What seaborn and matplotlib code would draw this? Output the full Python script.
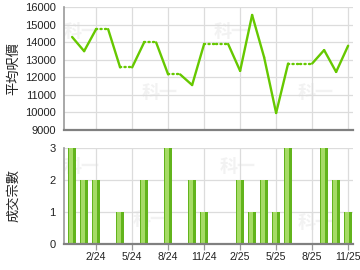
import numpy as np
import pandas as pd
import matplotlib
matplotlib.use("Agg")
import matplotlib.pyplot as plt
import seaborn as sns

months = ['12/23', '1/24', '2/24', '3/24', '4/24', '5/24', '6/24', '7/24', '8/24', '9/24',
          '10/24', '11/24', '12/24', '1/25', '2/25', '3/25', '4/25', '5/25', '6/25', '7/25',
          '8/25', '9/25', '10/25', '11/25']
counts = [3, 2, 2, 0, 1, 0, 2, 0, 3, 0, 2, 1, 0, 0, 2, 1, 2, 1, 3, 0, 0, 3, 2, 1]
prices = [14300, 13490, 14750, None, 12560, None, 13990, None, 12160, None,
          11550, 13900, None, None, 12360, 15560, 13140, 9950, 12780, None,
          None, 13550, 12300, 13800]
tick_labels = ['2/24', '5/24', '8/24', '11/24', '2/25', '5/25', '8/25', '11/25']
price_ticks = [9000, 10000, 11000, 12000, 13000, 14000, 15000, 16000]
count_ticks = [0, 1, 2, 3]

sns.set_theme(style="white")
plt.rcParams['font.family'] = ['Liberation Sans', 'Noto Sans CJK TC', 'DejaVu Sans']

xpos = np.arange(len(months))
filled = pd.Series(prices, dtype=float).ffill().to_numpy()

rows = []
for i in range(1, len(months)):
    kind = 'dotted' if prices[i] is None else 'solid'
    rows.append(dict(x=xpos[i - 1], y=filled[i - 1], seg=i, kind=kind))
    rows.append(dict(x=xpos[i], y=filled[i], seg=i, kind=kind))
line_df = pd.DataFrame(rows)

fig = plt.figure(figsize=(3.6, 2.7), dpi=100)
ax1 = fig.add_axes([0.178, 0.520, 0.803, 0.453])
ax2 = fig.add_axes([0.178, 0.096, 0.803, 0.357])

GREEN = '#66c800'
GRID = '#dcdcdc'
tick_idx = [months.index(t) for t in tick_labels]
xlim = (-0.67, 23.42)

# top: average price line
sns.lineplot(data=line_df, x='x', y='y', units='seg', style='kind', estimator=None,
             dashes={'solid': '', 'dotted': (0.5, 1.4)}, color=GREEN, linewidth=1.7,
             legend=False, ax=ax1, dash_capstyle='round')
ax1.set_xlim(*xlim)
ax1.set_ylim(9000, 16000)
ax1.set_yticks(price_ticks)
ax1.set_xticks(tick_idx)
ax1.set_xticklabels([])
ax1.set_xlabel('')
ax1.set_ylabel('平均呎價', family=['Noto Sans CJK TC'], fontsize=9.5, color='#222222')
ax1.yaxis.set_label_coords(-0.152, 0.5)

# bottom: transaction count bars
sns.barplot(x=xpos, y=counts, native_scale=True, width=0.72, color='#62b41c',
            saturation=1, linewidth=0, ax=ax2)
sns.barplot(x=xpos - 0.07, y=counts, native_scale=True, width=0.36, color='#a6db66',
            saturation=1, linewidth=0, ax=ax2)
ax2.set_xlim(*xlim)
ax2.set_ylim(0, 3)
ax2.set_yticks(count_ticks)
ax2.set_xticks(tick_idx)
ax2.set_xticklabels(tick_labels)
ax2.set_xlabel('')
ax2.set_ylabel('成交宗數', family=['Noto Sans CJK TC'], fontsize=9.5, color='#222222')
ax2.yaxis.set_label_coords(-0.152, 0.5)

for ax in (ax1, ax2):
    ax.grid(True, color=GRID, linewidth=0.9)
    ax.set_axisbelow(True)
    for s in ('top', 'right'):
        ax.spines[s].set_visible(False)
    ax.spines['left'].set_color('#9a9a9a')
    ax.spines['left'].set_linewidth(1.2)
    ax.spines['bottom'].set_color('#808080')
    ax.spines['bottom'].set_linewidth(1.6)
    ax.tick_params(axis='y', length=0, pad=6, labelsize=8, labelcolor='#222222')
    ax.tick_params(axis='x', bottom=True, length=4, width=0.9, color='#999999',
                   pad=2, labelsize=7.6, labelcolor='#222222')
ax1.tick_params(axis='x', bottom=False, length=0)

# faint watermarks
for ax, pts in ((ax1, [(0.06, 0.80), (0.33, 0.30), (0.58, 0.80), (0.87, 0.30)]),
                (ax2, [(0.06, 0.80), (0.30, 0.25), (0.60, 0.80), (0.87, 0.22)])):
    for (px, py) in pts:
        ax.text(px, py, '科一', transform=ax.transAxes, family=['Noto Sans CJK TC'],
                fontsize=13, fontweight='bold', color='#f2f2f2', ha='center',
                va='center', zorder=0)

fig.savefig('out.png', dpi=100)
